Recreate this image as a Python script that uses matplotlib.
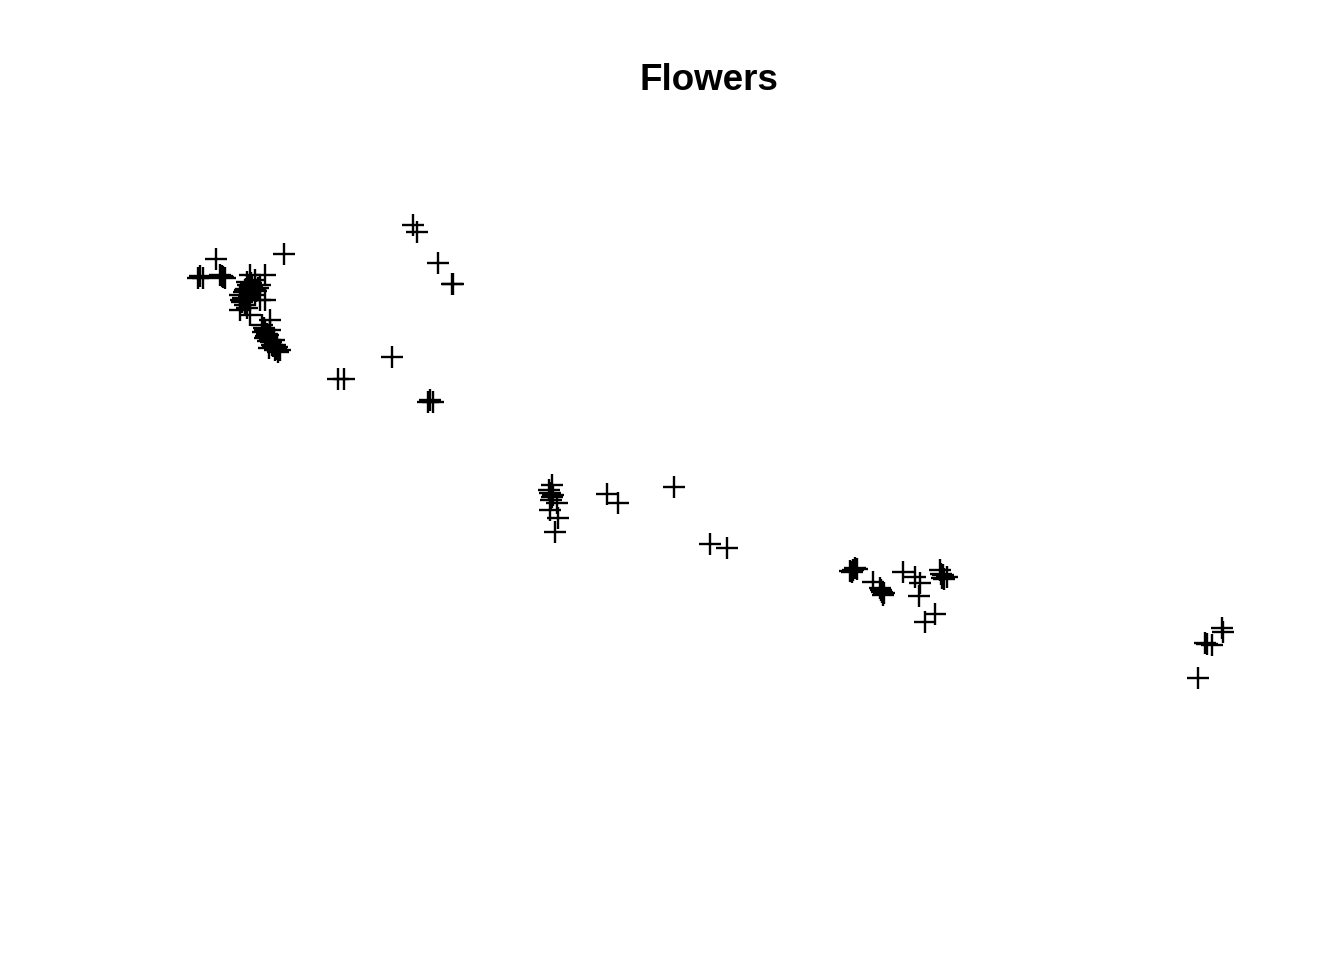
import matplotlib.pyplot as plt

# points (unités arbitraires, origine en bas à gauche)
x = [1.98, 2.03, 2.00, 2.22, 2.23, 2.20, 2.25, 2.16, 2.84,
     2.50, 2.55, 2.45, 2.40, 2.50, 2.55, 2.60, 2.65, 2.45, 2.40, 2.60, 2.65,
     2.50, 2.70, 2.65, 2.68, 2.70, 2.72, 2.75, 2.78, 2.80, 2.65, 2.70, 2.62,
     2.75, 2.58, 2.48, 2.43, 2.53,
     2.47, 2.52, 2.42, 2.44, 2.49, 2.51, 2.46, 2.56, 2.41, 2.47,
     2.63, 2.66, 2.68, 2.64, 2.67, 2.71, 2.69, 2.73, 2.76, 2.74, 2.77,
     4.13, 4.17, 4.38, 4.53, 4.52, 3.92, 3.38, 3.44, 4.28, 4.33, 4.30,
     5.52, 5.50, 5.52, 5.57, 5.50, 5.58, 5.55, 5.49, 5.53, 5.51,
     6.07, 6.18, 6.74, 7.10, 7.27,
     8.53, 8.57, 8.52, 8.55, 8.50, 8.73, 8.80, 8.83, 8.82, 8.81, 8.84,
     9.03, 9.15, 9.20, 9.19, 9.40, 9.43, 9.42, 9.47, 9.41, 9.44,
     9.25, 9.35,
     12.22, 12.23, 12.05, 12.12, 12.07, 11.98]
y = [6.82, 6.82, 6.84, 6.84, 6.83, 6.85, 6.82, 7.01, 7.06,
     6.85, 6.80, 6.70, 6.65, 6.60, 6.65, 6.75, 6.85, 6.55, 6.50, 6.60, 6.60,
     6.45, 6.40, 6.30, 6.25, 6.20, 6.15, 6.10, 6.08, 6.10, 6.22, 6.30, 6.35,
     6.15, 6.72, 6.75, 6.62, 6.70,
     6.78, 6.73, 6.58, 6.68, 6.63, 6.77, 6.71, 6.69, 6.60, 6.52,
     6.28, 6.24, 6.19, 6.32, 6.26, 6.18, 6.12, 6.14, 6.11, 6.20, 6.13,
     7.35, 7.28, 6.97, 6.76, 6.76, 6.03, 5.81, 5.81, 5.58, 5.58, 5.60,
     4.75, 4.67, 4.63, 4.57, 4.50, 4.42, 4.28, 4.70, 4.65, 4.60,
     4.66, 4.57, 4.73, 4.16, 4.12,
     3.90, 3.91, 3.88, 3.92, 3.89, 3.78, 3.72, 3.65, 3.68, 3.70, 3.67,
     3.88, 3.83, 3.77, 3.64, 3.90, 3.85, 3.82, 3.83, 3.86, 3.81,
     3.38, 3.46,
     3.32, 3.28, 3.17, 3.15, 3.16, 2.82]

fig = plt.figure(figsize=(13.44, 9.6), dpi=100)
ax = fig.add_axes([0, 0, 1, 1])
ax.scatter(x, y, marker="+", s=16 ** 2, linewidths=1.7, color="black")
ax.set_xlim(0, 13.44)
ax.set_ylim(0, 9.6)
ax.axis("off")

fig.text(709 / 1344, 1 - 80 / 960, "Flowers", ha="center", va="center",
         fontsize=26.5, fontweight="bold", family="Liberation Sans")

fig.savefig("out.png", dpi=100)
